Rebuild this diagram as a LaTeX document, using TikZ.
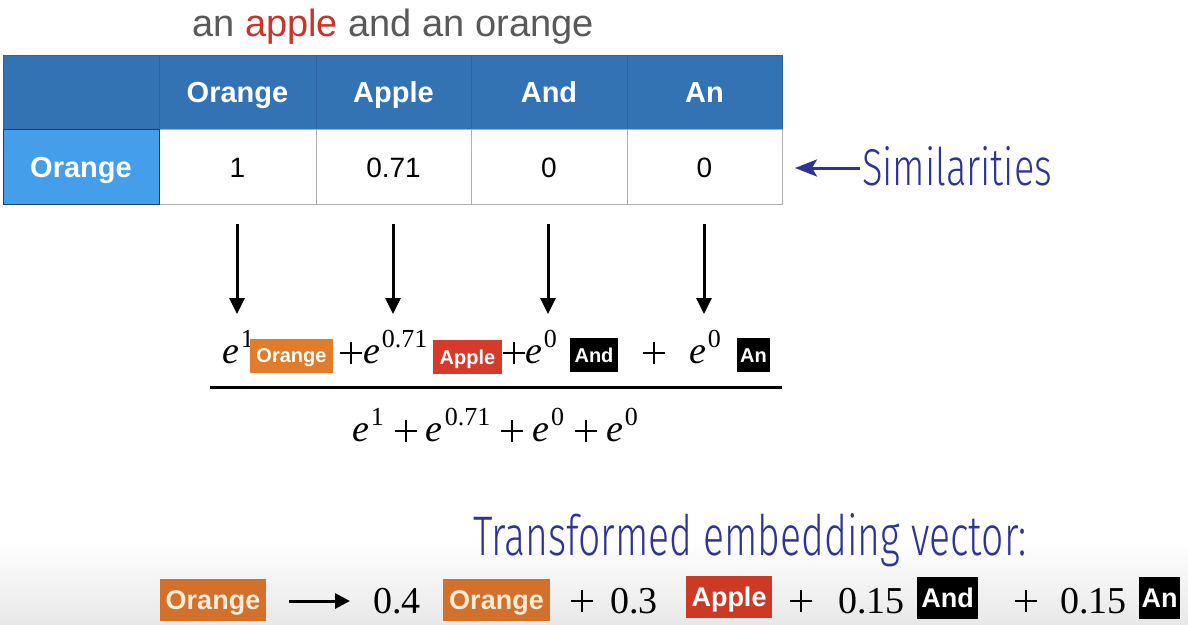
\documentclass[tikz,border=0pt]{standalone}
\usepackage{fontspec}
\setmainfont{Liberation Serif}
\setsansfont{Liberation Sans}
\newfontfamily\handfont{Fira Sans Light}
\usetikzlibrary{arrows.meta}

\definecolor{hdrblue}{HTML}{3373B4}
\definecolor{hdrline}{HTML}{2C64A2}
\definecolor{lblblue}{HTML}{449EEA}
\definecolor{lblline}{HTML}{1F3B66}
\definecolor{cellline}{HTML}{B0B0B0}
\definecolor{inkblue}{HTML}{2D3494}
\definecolor{tokorange}{HTML}{E07C2C}
\definecolor{tokorangeB}{HTML}{D3702B}
\definecolor{tokred}{HTML}{D63A2A}
\definecolor{tokredB}{HTML}{CC3A26}
\definecolor{titlegray}{HTML}{595959}
\definecolor{titlered}{HTML}{C9352B}
\definecolor{cream}{HTML}{F4ECD8}

\newcommand\fsz[1]{\fontsize{#1}{#1}\selectfont}
% e raised to a power
\newcommand\epow[1]{{\itshape e}\kern2pt\raisebox{16pt}{\fsz{26}#1}}
% a plus sign built from two rules, 22pt across
\newcommand\pls{\hbox to 22pt{\rlap{\raisebox{8.8pt}{\rule{22pt}{2.4pt}}}\hskip9.8pt\raisebox{-1pt}{\rule{2.4pt}{22pt}}\hfil}}

\begin{document}
\begin{tikzpicture}[x=1pt,y=-1pt,
  cellbox/.style={draw=cellline,line width=0.8pt,fill=white,inner sep=0pt,outer sep=0pt,
    minimum height=75pt,font=\sffamily\fsz{28},text height=20pt,text depth=0pt},
  hdrbox/.style={draw=hdrline,line width=0.8pt,fill=hdrblue,inner sep=0pt,outer sep=0pt,
    minimum height=74pt,text=white,font=\sffamily\bfseries\fsz{29},text height=21pt,text depth=0pt},
  lblbox/.style={draw=lblline,line width=1pt,fill=lblblue,inner sep=0pt,outer sep=0pt,
    minimum width=156pt,minimum height=75pt,text=white,font=\sffamily\bfseries\fsz{29},
    text height=21pt,text depth=0pt},
  tok/.style={inner sep=0pt,outer sep=0pt,font=\sffamily\bfseries\fsz{20},text=white,
    minimum height=34pt,text height=14pt,text depth=0pt},
  tokbig/.style={inner sep=0pt,outer sep=0pt,font=\sffamily\bfseries\fsz{27},text=cream,
    minimum height=42pt,text height=19pt,text depth=0pt},
  mathtxt/.style={inner sep=0pt,outer sep=0pt,anchor=base west,font=\fsz{38}},
  numtxt/.style={inner sep=0pt,outer sep=0pt,font=\fsz{38}},
  downarrow/.style={line width=3pt,-{Triangle[length=16pt,width=15pt]}},
  blackarrow/.style={line width=3pt,-{Triangle[length=15pt,width=15pt]}},
  inkarrow/.style={draw=inkblue,line width=3pt,-{Stealth[length=22pt,width=17pt,inset=5pt]}},
  handtxt/.style={inner sep=0pt,outer sep=0pt,anchor=base west,text=inkblue,font=\handfont}
]
\useasboundingbox (0,0) rectangle (1188,624);
\fill[white] (0,0) rectangle (1188,624);
\shade[top color=white,bottom color=black!9] (0,540) rectangle (1188,624);

% sentence above the table
\node[inner sep=0pt,anchor=base,font=\sffamily\fsz{38},text=titlegray] (title) at (393,36)
  {an \textcolor{titlered}{apple} and an orange};

% header row
\node[hdrbox,minimum width=156pt] (h0) at (81,92) {};
\node[hdrbox,minimum width=157pt] (h1) at (237.5,92) {Orange};
\node[hdrbox,minimum width=155pt] (h2) at (393.5,92) {Apple};
\node[hdrbox,minimum width=156pt] (h3) at (549,92) {And};
\node[hdrbox,minimum width=155pt] (h4) at (704.5,92) {An};

% similarity row
\node[cellbox,minimum width=157pt] (c1) at (237.5,167) {1};
\node[cellbox,minimum width=155pt] (c2) at (393.5,167) {0.71};
\node[cellbox,minimum width=156pt] (c3) at (549,167) {0};
\node[cellbox,minimum width=155pt] (c4) at (704.5,167) {0};
\node[lblbox] (c0) at (81,167) {Orange};

% similarities label
\node[handtxt] (sim) at (862,185) {\resizebox{190pt}{39pt}{Similarities}};
\coordinate (simtail) at (860,168);
\coordinate (simtip) at (795,168);
\draw[inkarrow] (simtail) -- (simtip);

% arrows from the similarities down to the weighted sum
\coordinate (d1) at (237,314);
\coordinate (d2) at (393,314);
\coordinate (d3) at (548,314);
\coordinate (d4) at (704,314);
\draw[downarrow] ([yshift=-19pt]c1.south -| d1) -- (d1);
\draw[downarrow] ([yshift=-19pt]c2.south -| d2) -- (d2);
\draw[downarrow] ([yshift=-19pt]c3.south -| d3) -- (d3);
\draw[downarrow] ([yshift=-19pt]c4.south -| d4) -- (d4);

% numerator
\node[mathtxt] (ne1) at (222,363) {\epow{1}};
\node[tok,fill=tokorange,minimum width=83pt] (nt1) at (291.5,355.5) {Orange};
\node[mathtxt] (np1) at (340,363) {\pls};
\node[mathtxt] (ne2) at (363,363) {\epow{0.71}};
\node[tok,fill=tokred,minimum width=69pt] (nt2) at (467.5,357) {Apple};
\node[mathtxt] (np2) at (503,363) {\pls};
\node[mathtxt] (ne3) at (525,363) {\epow{0}};
\node[tok,fill=black,minimum width=48pt] (nt3) at (594,355) {And};
\node[mathtxt] (np3) at (643,363) {\pls};
\node[mathtxt] (ne4) at (689,363) {\epow{0}};
\node[tok,fill=black,minimum width=33pt] (nt4) at (753.5,355) {An};

% fraction bar
\coordinate (barL) at (210,387);
\coordinate (barR) at (782,387);
\draw[line width=3pt] (barL) -- (barR);

% denominator
\node[inner sep=0pt,anchor=base,font=\fsz{38}] (den) at (495,441)
  {\epow{1}\kern11pt\pls\kern9pt\epow{0.71}\kern11pt\pls\kern9pt\epow{0}\kern11pt\pls\kern9pt\epow{0}};

% transformed embedding vector
\node[handtxt] (tev) at (473,555) {\resizebox{554pt}{42pt}{Transformed embedding vector:}};

\node[tokbig,fill=tokorangeB,minimum width=106pt] (b0) at (213,599.5) {Orange};
\coordinate (ba) at (289,601);
\coordinate (bb) at (350,601);
\draw[blackarrow] (ba) -- (bb);
\node[numtxt,anchor=base west] (w1) at (373,613) {0.4};
\node[tokbig,fill=tokorangeB,minimum width=107pt] (b1) at (496.5,600) {Orange};
\node[numtxt,anchor=base] (p1) at (582,611) {\pls};
\node[numtxt,anchor=base west] (w2) at (610,613) {0.3};
\node[tokbig,fill=tokredB,minimum width=86pt,text=white] (b2) at (729,597) {Apple};
\node[numtxt,anchor=base] (p2) at (801,611) {\pls};
\node[numtxt,anchor=base west] (w3) at (838,613) {0.15};
\node[tokbig,fill=black,minimum width=61pt,text=white] (b3) at (947.5,598) {And};
\node[numtxt,anchor=base] (p3) at (1026,611) {\pls};
\node[numtxt,anchor=base west] (w4) at (1060,613) {0.15};
\node[tokbig,fill=black,minimum width=41pt,text=white] (b4) at (1159.5,598) {An};
\end{tikzpicture}
\end{document}
